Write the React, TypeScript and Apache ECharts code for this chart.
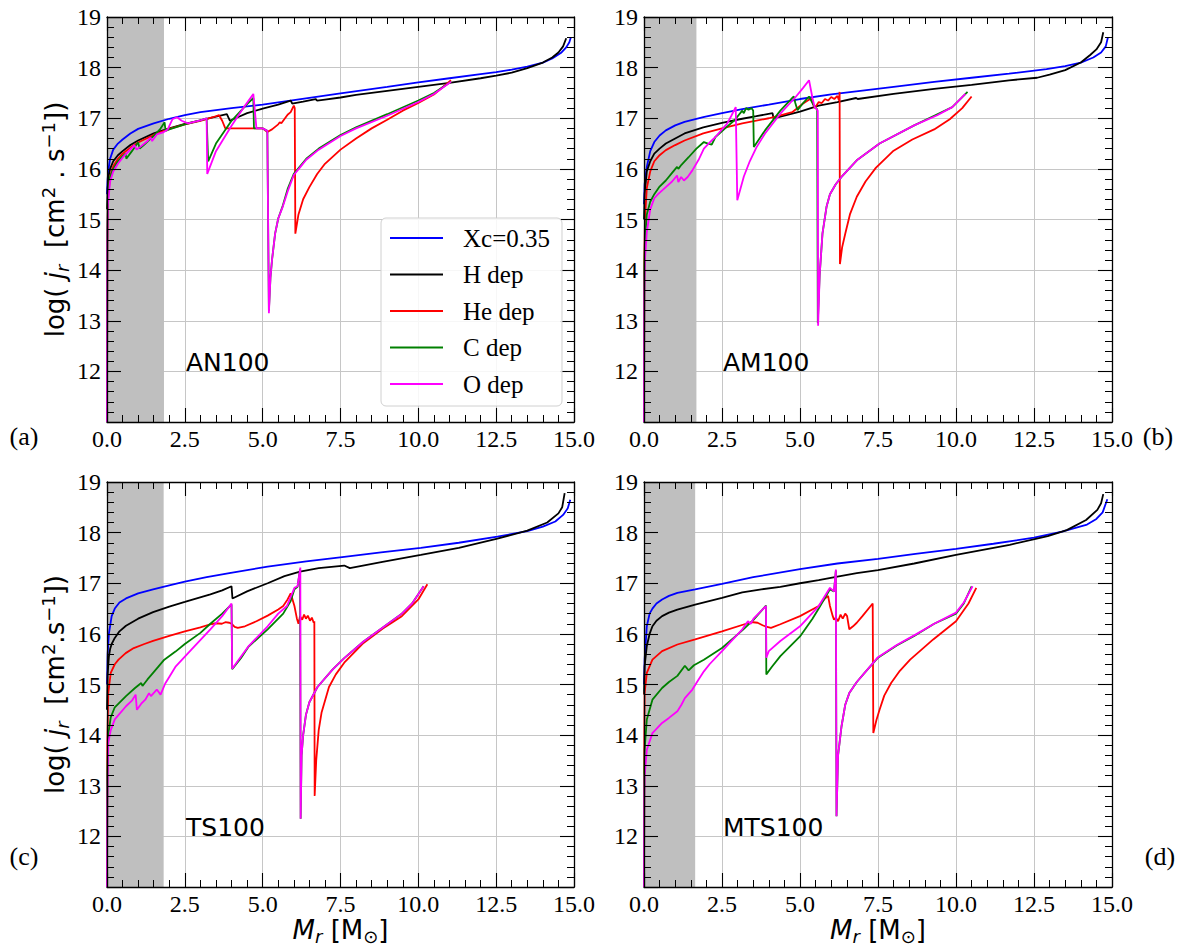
import React, { useEffect, useRef } from 'react';
import * as echarts from 'echarts';

type Pt = [number, number];

const seriesNames = ['Xc=0.35', 'H dep', 'He dep', 'C dep', 'O dep'];
const seriesColors = ['#0000ff', '#000000', '#ff0000', '#008000', '#ff00ff'];
const panelNames = ['AN100', 'AM100', 'TS100', 'MTS100'];
const panelTags = ['(a)', '(b)', '(c)', '(d)'];
const grayEdges = [1.83, 1.68, 1.82, 1.64];
const xMin = 0, xMax = 15, xStep = 2.5;
const yMin = 11, yMax = 19, yStep = 1;

// ---------- panel (a) AN100 ----------
const anXc: Pt[] = [[0, 15.5], [0.005, 15.6], [0.02, 15.8], [0.05, 16.0], [0.1, 16.2], [0.2, 16.38], [0.35, 16.5], [0.5, 16.58], [0.75, 16.7], [1.0, 16.79], [1.5, 16.9], [2.0, 16.99], [2.5, 17.06], [3.0, 17.12], [4.0, 17.2], [5.0, 17.27], [6.0, 17.36], [7.5, 17.49], [9.0, 17.62], [10.0, 17.71], [11.0, 17.79], [12.0, 17.87], [12.5, 17.91], [13.0, 17.96], [13.5, 18.02], [14.0, 18.1], [14.3, 18.18], [14.6, 18.3], [14.75, 18.4], [14.85, 18.5], [14.9, 18.6]];
const anH: Pt[] = [[0, 15.2], [0.02, 15.6], [0.05, 15.85], [0.1, 16.0], [0.2, 16.15], [0.35, 16.27], [0.5, 16.35], [0.75, 16.47], [1.0, 16.56], [1.5, 16.7], [2.0, 16.8], [2.5, 16.89], [3.0, 16.96], [3.5, 17.03], [3.85, 17.08], [3.95, 16.95], [4.2, 17.02], [4.5, 17.1], [5.0, 17.19], [5.5, 17.27], [5.9, 17.35], [5.95, 17.29], [6.3, 17.33], [6.7, 17.38], [6.75, 17.35], [7.0, 17.37], [7.5, 17.41], [8.0, 17.46], [9.0, 17.54], [10.0, 17.62], [11.0, 17.7], [12.0, 17.79], [12.5, 17.84], [13.0, 17.9], [13.5, 17.99], [14.0, 18.1], [14.3, 18.2], [14.5, 18.3], [14.65, 18.42], [14.75, 18.58]];
const anHe: Pt[] = [[0, 11], [0.01, 14.5], [0.03, 15.4], [0.1, 15.85], [0.2, 16.05], [0.35, 16.2], [0.5, 16.3], [0.75, 16.42], [1.0, 16.52], [1.5, 16.67], [2.0, 16.79], [2.5, 16.88], [3.0, 16.95], [3.4, 17.02], [3.6, 17.06], [3.7, 16.95], [3.8, 16.8], [4.5, 16.8], [5.0, 16.8], [5.15, 16.73], [5.3, 16.78], [5.5, 16.88], [5.55, 16.92], [5.6, 16.9], [5.8, 17.07], [5.9, 17.12], [6.0, 17.25], [6.03, 17.2], [6.05, 14.72], [6.15, 15.1], [6.3, 15.4], [6.5, 15.64], [6.75, 15.9], [7.0, 16.1], [7.5, 16.38], [8.0, 16.6], [8.5, 16.8], [9.0, 16.97], [9.5, 17.15], [10.0, 17.3], [10.5, 17.47], [11.05, 17.75]];
const anC: Pt[] = [[0, 11], [0.01, 14.8], [0.03, 15.5], [0.1, 15.85], [0.2, 16.0], [0.35, 16.15], [0.5, 16.25], [0.6, 16.3], [0.62, 16.2], [0.8, 16.35], [0.95, 16.48], [1.0, 16.52], [1.05, 16.4], [1.2, 16.48], [1.4, 16.6], [1.5, 16.65], [1.7, 16.78], [1.85, 16.92], [1.88, 16.75], [2.0, 16.78], [2.5, 16.88], [3.0, 16.96], [3.2, 17.0], [3.25, 16.15], [3.5, 16.5], [4.0, 16.95], [4.5, 17.28], [4.7, 17.4], [4.72, 16.8], [5.0, 16.8], [5.15, 16.75], [5.2, 13.2], [5.25, 13.85], [5.3, 14.2], [5.4, 14.72], [5.5, 15.02], [5.65, 15.28], [5.8, 15.6], [6.0, 15.9], [6.2, 16.05], [6.4, 16.2], [6.8, 16.4], [7.5, 16.67], [8.0, 16.82], [9.0, 17.08], [10.0, 17.35], [10.5, 17.5], [11.05, 17.72]];
const anO: Pt[] = [[0, 11], [0.01, 14.5], [0.03, 15.3], [0.1, 15.75], [0.2, 15.95], [0.35, 16.1], [0.5, 16.22], [0.7, 16.35], [0.88, 16.47], [0.95, 16.38], [1.1, 16.45], [1.3, 16.55], [1.4, 16.62], [1.45, 16.55], [1.6, 16.68], [1.8, 16.72], [1.95, 16.78], [2.1, 16.98], [2.25, 17.02], [2.4, 16.95], [2.6, 16.9], [3.0, 16.96], [3.2, 17.0], [3.22, 15.9], [3.5, 16.35], [4.0, 16.85], [4.4, 17.22], [4.7, 17.48], [4.8, 16.8], [5.0, 16.8], [5.15, 16.75], [5.2, 13.15], [5.25, 13.85], [5.3, 14.2], [5.4, 14.72], [5.5, 15.02], [5.65, 15.26], [5.8, 15.55], [6.0, 15.88], [6.2, 16.03], [6.4, 16.18], [6.8, 16.38], [7.5, 16.65], [8.0, 16.8], [9.0, 17.05], [10.0, 17.32], [10.5, 17.48], [11.05, 17.72]];

// ---------- panel (b) AM100 ----------
const amXc: Pt[] = [[0, 15.3], [0.02, 15.7], [0.09, 16.04], [0.2, 16.35], [0.33, 16.53], [0.5, 16.66], [0.7, 16.76], [1.0, 16.86], [1.3, 16.93], [1.9, 17.02], [2.5, 17.1], [3.15, 17.18], [4.0, 17.27], [5.0, 17.38], [6.0, 17.47], [6.8, 17.53], [8.0, 17.62], [9.3, 17.72], [10.5, 17.8], [11.7, 17.88], [12.9, 17.97], [13.5, 18.03], [14.0, 18.1], [14.4, 18.2], [14.65, 18.3], [14.8, 18.42], [14.87, 18.6]];
const amH: Pt[] = [[0, 15.0], [0.02, 15.5], [0.09, 15.95], [0.2, 16.15], [0.33, 16.3], [0.5, 16.4], [0.7, 16.5], [1.0, 16.6], [1.3, 16.7], [1.9, 16.82], [2.5, 16.91], [3.15, 16.99], [3.6, 17.04], [4.12, 17.1], [4.15, 17.0], [4.5, 17.05], [5.0, 17.13], [5.6, 17.25], [6.2, 17.32], [6.8, 17.4], [6.85, 17.38], [8.0, 17.48], [9.3, 17.58], [10.5, 17.66], [11.7, 17.75], [12.6, 17.8], [13.0, 17.86], [13.5, 17.95], [14.0, 18.1], [14.3, 18.25], [14.5, 18.36], [14.65, 18.5], [14.72, 18.7]];
const amHe: Pt[] = [[0, 11], [0.01, 14.2], [0.03, 15.0], [0.09, 15.62], [0.2, 15.95], [0.33, 16.15], [0.5, 16.27], [0.7, 16.37], [1.0, 16.47], [1.3, 16.56], [1.9, 16.7], [2.5, 16.8], [3.15, 16.9], [4.0, 17.0], [4.4, 17.06], [4.75, 17.12], [5.1, 17.29], [5.35, 17.39], [5.47, 17.2], [5.6, 17.32], [5.7, 17.3], [5.8, 17.38], [5.9, 17.35], [6.0, 17.42], [6.1, 17.38], [6.2, 17.44], [6.25, 17.35], [6.27, 17.52], [6.28, 14.12], [6.35, 14.45], [6.45, 14.72], [6.6, 15.1], [6.82, 15.45], [7.1, 15.75], [7.43, 16.02], [8.0, 16.36], [8.6, 16.58], [9.3, 16.78], [9.8, 16.98], [10.2, 17.2], [10.5, 17.43]];
const amC: Pt[] = [[0, 11], [0.01, 14.0], [0.03, 14.6], [0.09, 15.1], [0.2, 15.35], [0.33, 15.5], [0.5, 15.65], [0.7, 15.77], [0.9, 15.92], [1.06, 16.04], [1.1, 16.0], [1.2, 16.08], [1.43, 16.23], [1.68, 16.4], [1.92, 16.53], [2.05, 16.5], [2.17, 16.48], [2.29, 16.63], [2.6, 16.8], [2.9, 16.96], [3.15, 17.15], [3.2, 17.1], [3.27, 17.2], [3.35, 17.17], [3.45, 17.2], [3.5, 17.15], [3.52, 16.43], [3.88, 16.76], [4.37, 17.15], [4.8, 17.43], [4.85, 17.3], [4.92, 17.16], [5.1, 17.3], [5.29, 17.43], [5.47, 17.22], [5.55, 17.18], [5.57, 12.95], [5.63, 13.9], [5.72, 14.72], [5.85, 15.25], [5.96, 15.5], [6.15, 15.7], [6.33, 15.84], [6.82, 16.17], [7.55, 16.5], [8.66, 16.86], [9.4, 17.08], [9.88, 17.22], [10.37, 17.52]];
const amO: Pt[] = [[0, 11], [0.01, 13.5], [0.03, 14.2], [0.09, 14.75], [0.2, 15.2], [0.33, 15.42], [0.45, 15.5], [0.7, 15.64], [0.9, 15.75], [1.06, 15.87], [1.1, 15.74], [1.19, 15.84], [1.28, 15.77], [1.4, 15.84], [1.55, 15.97], [1.75, 16.18], [1.92, 16.4], [2.1, 16.52], [2.29, 16.63], [2.5, 16.78], [2.66, 16.89], [2.8, 17.05], [2.94, 17.22], [2.99, 15.38], [3.2, 15.85], [3.39, 16.15], [3.6, 16.42], [3.88, 16.7], [4.37, 17.09], [4.86, 17.42], [5.1, 17.6], [5.29, 17.75], [5.4, 17.4], [5.47, 17.22], [5.57, 17.15], [5.58, 12.9], [5.63, 13.9], [5.72, 14.72], [5.85, 15.25], [5.96, 15.5], [6.15, 15.7], [6.33, 15.84], [6.82, 16.17], [7.55, 16.5], [8.66, 16.86], [9.4, 17.06], [9.88, 17.22], [10.3, 17.48]];

// ---------- panel (c) TS100 ----------
const tsXc: Pt[] = [[0, 15.0], [0.02, 15.6], [0.06, 16.0], [0.15, 16.35], [0.25, 16.5], [0.4, 16.62], [0.61, 16.7], [1.0, 16.8], [1.48, 16.88], [2.0, 16.96], [2.5, 17.03], [3.2, 17.12], [3.93, 17.2], [5.16, 17.33], [6.4, 17.43], [7.62, 17.52], [8.8, 17.61], [10.08, 17.7], [11.3, 17.8], [12.54, 17.92], [13.5, 18.03], [14.0, 18.12], [14.4, 18.22], [14.65, 18.35], [14.8, 18.48], [14.88, 18.65]];
const tsH: Pt[] = [[0, 14.5], [0.02, 15.2], [0.06, 15.55], [0.1, 15.7], [0.15, 15.8], [0.25, 15.92], [0.4, 16.05], [0.61, 16.16], [1.0, 16.3], [1.48, 16.43], [2.0, 16.54], [2.5, 16.63], [3.32, 16.78], [3.7, 16.86], [4.0, 16.94], [4.03, 16.7], [4.5, 16.84], [5.16, 17.0], [5.7, 17.14], [6.2, 17.23], [6.8, 17.3], [7.62, 17.35], [7.8, 17.3], [8.85, 17.42], [10.08, 17.56], [11.3, 17.7], [12.54, 17.88], [13.5, 18.04], [14.14, 18.2], [14.5, 18.38], [14.62, 18.5], [14.7, 18.78]];
const tsHe: Pt[] = [[0, 11], [0.01, 13.8], [0.04, 14.83], [0.12, 15.23], [0.25, 15.4], [0.37, 15.49], [0.6, 15.62], [0.86, 15.72], [1.2, 15.8], [1.48, 15.86], [2.0, 15.96], [2.5, 16.05], [3.0, 16.13], [3.32, 16.19], [3.5, 16.21], [3.69, 16.2], [3.8, 16.23], [3.93, 16.22], [4.0, 16.2], [4.1, 16.14], [4.2, 16.12], [4.43, 16.15], [4.8, 16.25], [5.16, 16.36], [5.5, 16.48], [5.66, 16.55], [5.8, 16.68], [5.9, 16.8], [5.95, 16.7], [6.02, 16.55], [6.1, 16.3], [6.15, 16.2], [6.2, 16.35], [6.27, 16.28], [6.33, 16.38], [6.39, 16.3], [6.45, 16.36], [6.52, 16.26], [6.58, 16.32], [6.64, 16.22], [6.66, 16.25], [6.67, 12.8], [6.72, 13.5], [6.8, 14.1], [6.89, 14.44], [7.13, 14.95], [7.35, 15.2], [7.62, 15.43], [8.24, 15.82], [8.85, 16.1], [9.47, 16.35], [10.0, 16.68], [10.29, 16.98]];
const tsC: Pt[] = [[0, 11], [0.01, 13.2], [0.04, 14.0], [0.12, 14.35], [0.25, 14.55], [0.61, 14.77], [0.9, 14.93], [1.1, 15.03], [1.14, 14.97], [1.3, 15.1], [1.48, 15.23], [1.84, 15.49], [2.2, 15.65], [2.5, 15.8], [3.0, 16.02], [3.32, 16.2], [3.7, 16.4], [4.0, 16.58], [4.02, 15.3], [4.3, 15.52], [4.55, 15.75], [5.16, 16.09], [5.66, 16.4], [5.9, 16.65], [6.02, 16.88], [6.12, 16.93], [6.2, 17.28], [6.22, 12.35], [6.25, 13.6], [6.3, 14.0], [6.39, 14.4], [6.5, 14.65], [6.76, 14.95], [7.25, 15.3], [7.62, 15.52], [8.24, 15.85], [8.85, 16.12], [9.47, 16.4], [9.8, 16.6], [10.17, 16.94]];
const tsO: Pt[] = [[0, 11], [0.01, 12.6], [0.04, 13.85], [0.12, 14.1], [0.25, 14.31], [0.61, 14.57], [0.8, 14.68], [0.92, 14.8], [0.96, 14.5], [1.1, 14.62], [1.23, 14.7], [1.35, 14.83], [1.41, 14.77], [1.6, 14.9], [1.72, 14.8], [1.87, 15.02], [2.0, 15.15], [2.21, 15.36], [2.71, 15.69], [3.32, 16.09], [3.7, 16.35], [4.0, 16.6], [4.02, 15.31], [4.55, 15.76], [5.16, 16.15], [5.5, 16.4], [5.78, 16.55], [6.02, 16.91], [6.12, 16.94], [6.21, 17.31], [6.22, 12.35], [6.25, 13.6], [6.3, 14.0], [6.39, 14.4], [6.5, 14.65], [6.76, 14.95], [7.25, 15.3], [7.62, 15.52], [8.24, 15.85], [8.85, 16.12], [9.47, 16.4], [9.8, 16.6], [10.17, 16.94]];

// ---------- panel (d) MTS100 ----------
const mtsXc: Pt[] = [[0, 15.0], [0.02, 15.5], [0.09, 16.15], [0.18, 16.4], [0.27, 16.5], [0.4, 16.6], [0.58, 16.68], [0.8, 16.75], [1.07, 16.81], [1.64, 16.88], [2.5, 16.99], [3.5, 17.12], [5.0, 17.28], [6.2, 17.39], [7.5, 17.48], [8.7, 17.58], [10.0, 17.68], [11.2, 17.78], [12.5, 17.9], [13.4, 18.02], [14.2, 18.16], [14.5, 18.27], [14.7, 18.4], [14.85, 18.66]];
const mtsH: Pt[] = [[0, 14.8], [0.02, 15.36], [0.09, 15.76], [0.18, 16.0], [0.27, 16.15], [0.4, 16.26], [0.58, 16.35], [0.8, 16.42], [1.07, 16.48], [1.64, 16.58], [2.5, 16.71], [3.15, 16.82], [3.76, 16.88], [4.37, 16.93], [5.0, 17.0], [5.6, 17.06], [6.2, 17.13], [6.82, 17.2], [7.5, 17.26], [8.66, 17.39], [10.0, 17.56], [11.72, 17.76], [12.94, 17.93], [13.55, 18.05], [14.17, 18.25], [14.53, 18.45], [14.65, 18.58], [14.72, 18.76]];
const mtsHe: Pt[] = [[0, 11], [0.01, 14.0], [0.02, 14.83], [0.09, 15.23], [0.27, 15.49], [0.58, 15.66], [1.07, 15.79], [1.64, 15.89], [2.5, 16.05], [3.27, 16.2], [3.5, 16.23], [3.64, 16.22], [3.8, 16.17], [3.88, 16.15], [4.07, 16.12], [4.37, 16.19], [5.0, 16.35], [5.6, 16.55], [5.8, 16.7], [5.9, 16.75], [5.96, 16.55], [6.05, 16.35], [6.09, 16.28], [6.15, 16.32], [6.22, 16.25], [6.3, 16.38], [6.37, 16.3], [6.45, 16.4], [6.51, 16.35], [6.55, 16.2], [6.58, 16.09], [6.7, 16.15], [6.82, 16.22], [7.0, 16.35], [7.33, 16.6], [7.35, 14.04], [7.45, 14.3], [7.55, 14.5], [7.7, 14.78], [7.92, 15.03], [8.2, 15.27], [8.53, 15.49], [9.27, 15.89], [10.0, 16.25], [10.4, 16.6], [10.65, 16.91]];
const mtsC: Pt[] = [[0, 11], [0.01, 13.2], [0.02, 13.71], [0.09, 14.31], [0.27, 14.7], [0.58, 14.93], [0.8, 15.05], [1.07, 15.17], [1.31, 15.37], [1.43, 15.28], [1.6, 15.38], [1.92, 15.49], [2.5, 15.72], [3.15, 16.07], [3.5, 16.27], [3.91, 16.56], [3.92, 15.2], [4.1, 15.35], [4.37, 15.56], [5.0, 15.95], [5.4, 16.3], [5.6, 16.5], [5.96, 16.88], [6.09, 16.84], [6.15, 17.25], [6.17, 12.4], [6.22, 13.6], [6.33, 14.17], [6.45, 14.6], [6.58, 14.83], [6.82, 15.05], [7.07, 15.23], [7.5, 15.53], [8.1, 15.77], [8.66, 15.96], [9.3, 16.2], [10.0, 16.4], [10.25, 16.6], [10.5, 16.94]];
const mtsO: Pt[] = [[0, 11], [0.01, 12.8], [0.02, 13.19], [0.09, 13.71], [0.27, 14.04], [0.58, 14.24], [0.8, 14.34], [1.07, 14.47], [1.2, 14.6], [1.31, 14.73], [1.55, 14.9], [1.75, 15.1], [1.92, 15.26], [2.1, 15.4], [2.5, 15.66], [3.15, 16.09], [3.33, 16.25], [3.42, 16.2], [3.51, 16.3], [3.91, 16.55], [3.92, 15.53], [4.0, 15.66], [4.37, 15.86], [5.0, 16.15], [5.6, 16.55], [5.96, 16.91], [6.09, 16.84], [6.15, 17.27], [6.17, 12.4], [6.22, 13.6], [6.33, 14.17], [6.45, 14.6], [6.58, 14.83], [6.82, 15.05], [7.07, 15.23], [7.5, 15.54], [8.1, 15.78], [8.66, 15.97], [9.3, 16.2], [10.0, 16.42], [10.25, 16.62], [10.53, 16.94]];

const panelData: Pt[][][] = [
  [anXc, anH, anHe, anC, anO],
  [amXc, amH, amHe, amC, amO],
  [tsXc, tsH, tsHe, tsC, tsO],
  [mtsXc, mtsH, mtsHe, mtsC, mtsO],
];

const yTitleTop = '{n|log( }{i|j}{s|r}{n|  [cm}{p|2}{n| . s}{p|−1}{n|])}';
const yTitleBottom = '{n|log( }{i|j}{s|r}{n|  [cm}{p|2}{n|.s}{p|−1}{n|])}';
const xTitle = '{i|M}{s|r}{n| [M}{s|⊙}{n|]}';

function buildOption() {
  const grids = [
    { left: 107, top: 17, width: 467, height: 405 },
    { left: 644, top: 17, width: 468, height: 405 },
    { left: 107, top: 482, width: 467, height: 405 },
    { left: 644, top: 482, width: 468, height: 405 },
  ];
  const black = '#000000';
  const tickAxisBase = {
    type: 'value' as const,
    z: 6,
    axisLine: { show: true, onZero: false, lineStyle: { color: black, width: 1.3 } },
    axisTick: { show: true, inside: true, length: 14, lineStyle: { color: black, width: 1.1 } },
    minorTick: { show: true, splitNumber: 5, length: 7, lineStyle: { color: black, width: 1 } },
    splitLine: { show: false },
  };
  const richTitle = {
    n: { fontFamily: 'DejaVu Sans', fontSize: 26, color: black, lineHeight: 32 },
    i: { fontFamily: 'DejaVu Sans', fontStyle: 'italic', fontSize: 26, color: black, lineHeight: 32 },
    s: { fontFamily: 'DejaVu Sans', fontStyle: 'italic', fontSize: 18, color: black, lineHeight: 18, verticalAlign: 'bottom' },
    p: { fontFamily: 'DejaVu Sans', fontSize: 18, color: black, lineHeight: 18, verticalAlign: 'top' },
  };
  const xAxes: any[] = [];
  const yAxes: any[] = [];
  const series: any[] = [];
  const graphics: any[] = [];
  for (let g = 0; g < 4; g++) {
    const bottomRow = g >= 2;
    const leftCol = g % 2 === 0;
    const xBase = { ...tickAxisBase, gridIndex: g, min: xMin, max: xMax, interval: xStep };
    const yBase = { ...tickAxisBase, gridIndex: g, min: yMin, max: yMax, interval: yStep };
    xAxes.push({
      ...xBase,
      position: 'bottom',
      axisLabel: {
        show: true, margin: 5, color: black, fontFamily: 'Liberation Serif', fontSize: 24,
        showMinLabel: true, showMaxLabel: true,
        formatter: (v: number) => v.toFixed(1),
      },
      name: bottomRow ? xTitle : '',
      nameLocation: 'middle',
      nameGap: 26,
      nameTextStyle: { rich: richTitle },
    });
    xAxes.push({ ...xBase, position: 'top', axisLabel: { show: false } });
    xAxes.push({
      type: 'value', gridIndex: g, min: xMin, max: xMax, interval: xStep, position: 'bottom', z: 0,
      axisLine: { show: false }, axisTick: { show: false }, axisLabel: { show: false }, minorTick: { show: false },
      splitLine: { show: true, lineStyle: { color: '#c6c6c6', width: 1 } },
    });
    yAxes.push({
      ...yBase,
      position: 'left',
      axisLabel: {
        show: true, margin: 6, color: black, fontFamily: 'Liberation Serif', fontSize: 24,
        formatter: (v: number) => (v === yMin ? '' : String(v)),
      },
      name: leftCol ? (bottomRow ? yTitleBottom : yTitleTop) : '',
      nameLocation: 'middle',
      nameRotate: 90,
      nameGap: 36,
      nameTextStyle: { rich: richTitle },
    });
    yAxes.push({ ...yBase, position: 'right', axisLabel: { show: false } });
    yAxes.push({
      type: 'value', gridIndex: g, min: yMin, max: yMax, interval: yStep, position: 'left', z: 0,
      axisLine: { show: false }, axisTick: { show: false }, axisLabel: { show: false }, minorTick: { show: false },
      splitLine: { show: true, lineStyle: { color: '#c6c6c6', width: 1 } },
    });

    panelData[g].forEach((data, k) => {
      const s: any = {
        type: 'line',
        name: seriesNames[k],
        xAxisIndex: 3 * g,
        yAxisIndex: 3 * g,
        data,
        symbol: 'none',
        showSymbol: false,
        clip: true,
        silent: true,
        z: 2,
        lineStyle: { color: seriesColors[k], width: 1.8 },
        itemStyle: { color: seriesColors[k] },
      };
      if (k === 0) {
        s.markArea = {
          silent: true,
          itemStyle: { color: '#bfbfbf', opacity: 1 },
          data: [[{ xAxis: 0 }, { xAxis: grayEdges[g] }]],
        };
      }
      series.push(s);
    });

    const grid = grids[g];
    graphics.push({
      type: 'text',
      x: grid.left + 79,
      y: grid.top + 345,
      z: 10,
      style: { text: panelNames[g], fontFamily: 'DejaVu Sans', fontSize: 25, fill: black, verticalAlign: 'middle', align: 'left' },
    });
  }
  graphics.push(
    { type: 'text', x: 24, y: 436, style: { text: panelTags[0], fontFamily: 'Liberation Serif', fontSize: 26, fill: black, align: 'center', verticalAlign: 'middle' } },
    { type: 'text', x: 1158, y: 436, style: { text: panelTags[1], fontFamily: 'Liberation Serif', fontSize: 26, fill: black, align: 'center', verticalAlign: 'middle' } },
    { type: 'text', x: 24, y: 856, style: { text: panelTags[2], fontFamily: 'Liberation Serif', fontSize: 26, fill: black, align: 'center', verticalAlign: 'middle' } },
    { type: 'text', x: 1160, y: 856, style: { text: panelTags[3], fontFamily: 'Liberation Serif', fontSize: 26, fill: black, align: 'center', verticalAlign: 'middle' } },
  );

  return {
    animation: false,
    backgroundColor: '#ffffff',
    grid: grids,
    xAxis: xAxes,
    yAxis: yAxes,
    legend: {
      data: seriesNames.map((name, k) => ({ name, icon: 'rect', itemStyle: { color: seriesColors[k] } })),
      orient: 'vertical',
      left: 381,
      top: 218,
      itemWidth: 53,
      itemHeight: 2,
      itemGap: 10.5,
      padding: [7, 12, 9, 9],
      backgroundColor: 'rgba(255,255,255,0.85)',
      borderColor: '#d0d0d0',
      borderWidth: 1,
      borderRadius: 5,
      selectedMode: false,
      textStyle: { fontFamily: 'Liberation Serif', fontSize: 25, color: black, lineHeight: 26, padding: [0, 0, 0, 15] },
      z: 8,
    },
    series,
    graphic: graphics,
  };
}

export default function App() {
  const ref = useRef<HTMLDivElement | null>(null);
  useEffect(() => {
    if (!ref.current) return;
    const chart = echarts.init(ref.current, undefined, { renderer: 'svg' });
    chart.setOption(buildOption() as any);
    return () => chart.dispose();
  }, []);
  return (
    <div
      ref={ref}
      style={{ position: 'absolute', left: 0, top: 0, width: 1187, height: 948, background: '#fff' }}
    />
  );
}
